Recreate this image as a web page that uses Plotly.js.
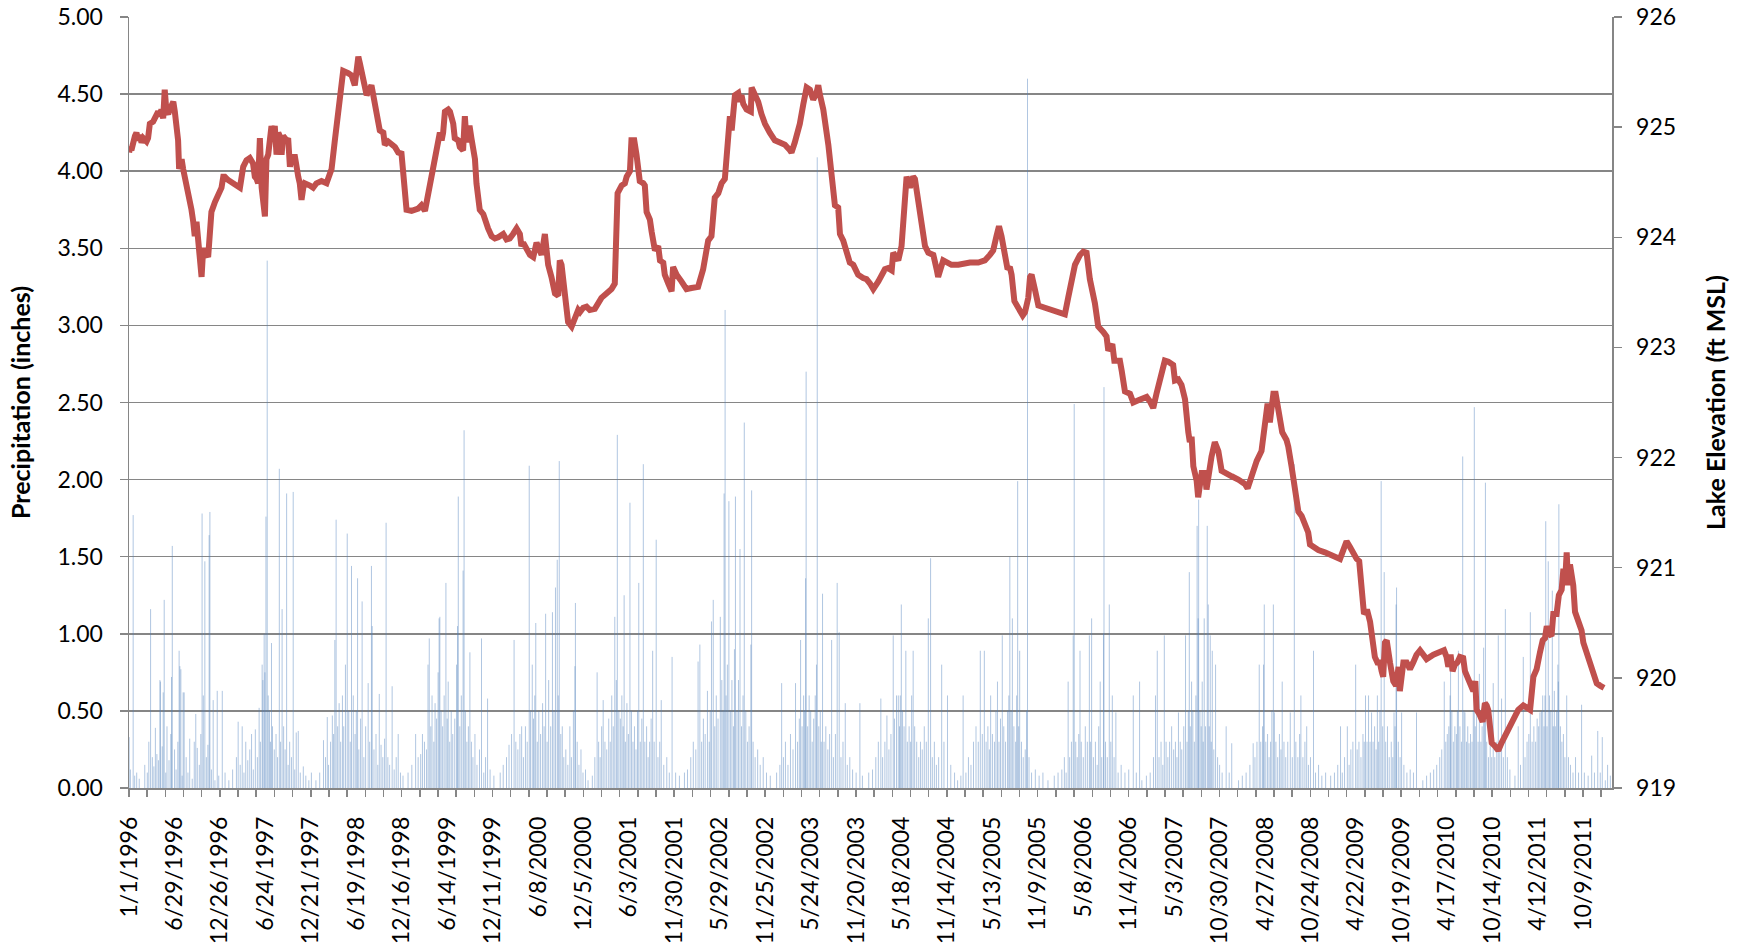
<!DOCTYPE html>
<html><head><meta charset="utf-8">
<script src="https://cdn.plot.ly/plotly-3.0.1.min.js"></script>
<style>html,body{margin:0;padding:0;background:#fff}#chart{width:1744px;height:944px}</style>
</head><body><div id="chart"></div>
<script>
// Day index = days since 1/1/1996 (one category per day, 1/1/1996 .. 1/31/2012)
const firstDay = '1996-01-01';
const lastDayIndex = 5874;

const xTickLabels = ['1/1/1996','6/29/1996','12/26/1996','6/24/1997','12/21/1997','6/19/1998','12/16/1998',
 '6/14/1999','12/11/1999','6/8/2000','12/5/2000','6/3/2001','11/30/2001','5/29/2002','11/25/2002',
 '5/24/2003','11/20/2003','5/18/2004','11/14/2004','5/13/2005','11/9/2005','5/8/2006','11/4/2006',
 '5/3/2007','10/30/2007','4/27/2008','10/24/2008','4/22/2009','10/19/2009','4/17/2010','10/14/2010',
 '4/12/2011','10/9/2011'];

// Daily precipitation readings [dayIndex, inches] (days not listed ~0)
const precip1996 = [[0,0.33],[5,0.12],[16,1.77],[22,0.08],[30,0.1],[40,0.06],[62,0.15],[72,0.1],[78,0.3],[85,1.16],[92,0.2],[98,0.14],[104,0.39],[110,0.22],[116,0.18],[122,0.7],[124,0.69],[131,0.27],[135,0.62],[139,1.22],[145,0.1],[150,0.4],[158,0.18],[165,0.35],[168,0.72],[171,1.57],[180,0.25],[186,0.12],[193,0.3],[198,0.89],[201,0.79],[205,0.77],[210,0.08],[214,0.62],[218,0.62],[226,0.2],[233,0.1],[240,0.32],[250,0.06],[258,0.3],[264,0.48],[270,0.26],[278,0.15],[284,0.35],[289,1.78],[294,0.6],[300,1.47],[306,0.2],[312,0.28],[317,1.64],[320,1.79],[326,0.12],[333,0.57],[340,0.05],[349,0.63],[355,0.08]];
const precip1997 = [[369,0.63],[380,0.1],[395,0.05],[410,0.12],[425,0.2],[432,0.43],[440,0.15],[448,0.4],[455,0.1],[462,0.3],[470,0.18],[478,0.25],[485,0.35],[492,0.12],[500,0.38],[508,0.2],[515,0.52],[520,0.3],[527,0.8],[530,0.7],[535,1.0],[538,0.75],[542,1.76],[547,3.42],[551,0.6],[556,0.5],[560,0.3],[564,0.94],[568,0.4],[575,0.25],[582,0.35],[588,0.2],[595,2.07],[600,0.3],[606,1.16],[612,0.4],[618,0.25],[624,1.91],[630,0.15],[636,0.3],[643,0.2],[650,1.92],[656,0.12],[662,0.36],[670,0.37],[678,0.1],[690,0.14],[700,0.08],[712,0.05],[722,0.1]];
const precip1998 = [[740,0.05],[755,0.1],[770,0.31],[778,0.2],[785,0.46],[790,0.15],[798,0.3],[805,0.47],[810,0.35],[815,0.96],[820,1.74],[826,0.4],[832,0.55],[838,0.3],[845,0.6],[850,0.4],[857,0.8],[864,1.65],[870,0.5],[876,0.3],[881,1.44],[888,0.6],[895,0.35],[900,0.5],[905,1.36],[910,0.25],[917,0.45],[923,1.21],[930,0.2],[937,0.4],[947,0.68],[953,0.3],[960,1.44],[963,1.05],[970,0.25],[978,0.35],[985,0.15],[991,0.61],[998,0.28],[1005,0.2],[1012,0.32],[1018,1.72],[1025,0.2],[1032,0.15],[1042,0.66],[1050,0.12],[1058,0.2],[1066,0.35],[1075,0.1],[1085,0.08]];
const precip1999 = [[1105,0.1],[1120,0.15],[1135,0.35],[1145,0.2],[1155,0.22],[1162,0.35],[1170,0.3],[1178,0.25],[1184,0.8],[1189,0.97],[1195,0.4],[1200,0.6],[1207,0.3],[1212,0.55],[1218,0.45],[1224,0.75],[1228,1.1],[1231,1.11],[1236,0.5],[1242,0.4],[1248,0.6],[1255,1.33],[1260,0.45],[1264,0.69],[1270,0.3],[1276,0.5],[1282,0.35],[1290,0.45],[1297,0.8],[1301,1.05],[1304,1.89],[1310,0.4],[1316,0.6],[1323,1.41],[1327,2.32],[1332,0.5],[1338,0.3],[1344,0.4],[1350,0.88],[1356,0.3],[1362,0.2],[1370,0.35],[1378,0.15],[1388,0.25],[1396,0.97],[1405,0.1],[1412,0.2],[1420,0.58],[1430,0.12],[1445,0.08]];
const precip2000 = [[1470,0.1],[1482,0.15],[1495,0.2],[1505,0.28],[1515,0.35],[1525,0.96],[1532,0.3],[1540,0.25],[1548,0.35],[1555,0.4],[1562,0.2],[1570,0.4],[1577,0.3],[1585,2.09],[1590,0.5],[1597,0.8],[1602,0.45],[1607,0.6],[1611,1.07],[1617,0.3],[1623,0.5],[1630,0.35],[1638,0.55],[1644,0.4],[1650,1.13],[1656,0.3],[1662,0.7],[1670,0.4],[1677,1.14],[1683,0.5],[1689,1.3],[1696,1.48],[1700,0.6],[1704,2.12],[1710,0.35],[1716,0.4],[1722,0.2],[1730,0.25],[1738,0.15],[1746,0.4],[1752,0.2],[1760,0.5],[1766,0.79],[1768,1.2],[1775,0.3],[1782,0.15],[1790,0.25],[1798,0.1],[1808,0.12],[1818,0.05]];
const precip2001 = [[1835,0.08],[1845,0.2],[1854,0.75],[1860,0.3],[1866,0.2],[1872,0.4],[1878,0.57],[1885,0.3],[1892,0.25],[1900,0.45],[1906,0.3],[1912,0.6],[1918,0.4],[1924,1.11],[1930,0.7],[1934,2.29],[1940,0.5],[1946,0.45],[1952,0.6],[1957,0.4],[1961,1.25],[1966,0.3],[1972,0.55],[1978,0.35],[1984,1.85],[1990,0.5],[1996,0.3],[2002,0.4],[2008,0.25],[2014,0.5],[2019,1.33],[2025,0.3],[2031,0.45],[2037,2.1],[2043,0.3],[2050,0.4],[2056,0.2],[2062,0.3],[2068,0.45],[2074,0.89],[2080,0.3],[2088,1.61],[2095,0.2],[2102,0.3],[2108,0.57],[2118,0.15],[2130,0.2],[2140,0.1],[2151,0.85],[2165,0.1],[2180,0.08]];
const precip2002 = [[2200,0.1],[2212,0.12],[2225,0.2],[2235,0.3],[2245,0.25],[2254,0.82],[2261,0.93],[2268,0.3],[2275,0.45],[2282,0.35],[2291,0.63],[2298,0.3],[2302,0.5],[2307,1.08],[2314,1.22],[2320,0.4],[2326,0.6],[2333,0.45],[2342,1.11],[2348,0.7],[2353,0.5],[2357,1.91],[2361,3.1],[2365,0.6],[2370,0.8],[2376,1.86],[2382,0.5],[2388,0.7],[2394,0.4],[2398,0.9],[2402,1.89],[2408,0.5],[2414,0.7],[2420,1.55],[2426,0.4],[2432,0.6],[2437,2.37],[2443,0.5],[2450,0.3],[2456,0.4],[2463,0.93],[2466,1.93],[2472,0.3],[2480,0.2],[2490,0.25],[2500,0.15],[2512,0.2],[2525,0.1],[2540,0.08]];
const precip2003 = [[2565,0.1],[2578,0.15],[2585,0.68],[2592,0.2],[2600,0.3],[2610,0.15],[2620,0.35],[2630,0.25],[2640,0.68],[2648,0.3],[2655,0.45],[2660,0.96],[2666,0.4],[2672,0.6],[2676,0.5],[2680,1.36],[2682,2.7],[2688,0.4],[2694,0.6],[2700,0.5],[2706,0.3],[2712,0.45],[2718,0.6],[2723,0.8],[2726,4.09],[2732,0.4],[2738,0.5],[2742,0.3],[2747,1.26],[2753,0.3],[2760,0.4],[2768,0.25],[2775,0.35],[2783,0.96],[2790,0.2],[2798,0.35],[2805,1.33],[2813,1.01],[2820,0.2],[2828,0.3],[2837,0.55],[2845,0.15],[2855,0.2],[2866,0.12],[2880,0.1],[2895,0.55],[2905,0.08]];
const precip2004 = [[2930,0.1],[2945,0.12],[2958,0.2],[2968,0.3],[2978,0.58],[2985,0.2],[2994,0.3],[3002,0.47],[3010,0.25],[3018,0.35],[3027,0.99],[3032,0.45],[3040,0.6],[3047,0.6],[3052,0.4],[3055,0.6],[3059,1.19],[3064,0.5],[3070,0.4],[3077,0.89],[3083,0.3],[3090,0.4],[3096,0.3],[3100,0.6],[3106,0.89],[3112,0.4],[3120,0.3],[3128,0.2],[3135,0.3],[3142,0.25],[3150,0.4],[3158,0.3],[3166,1.1],[3175,1.49],[3182,0.2],[3190,0.3],[3198,0.15],[3207,0.2],[3219,0.8],[3228,0.3],[3242,0.6],[3255,0.15],[3270,0.1],[3282,0.05]];
const precip2005 = [[3295,0.08],[3304,0.6],[3315,0.1],[3325,0.2],[3335,0.15],[3345,0.3],[3355,0.4],[3364,0.3],[3372,0.89],[3380,0.35],[3388,0.89],[3395,0.3],[3402,0.4],[3408,0.25],[3413,0.6],[3420,0.35],[3428,0.3],[3434,0.5],[3440,0.69],[3446,0.3],[3452,0.45],[3459,0.99],[3465,0.4],[3472,0.3],[3480,0.5],[3485,0.6],[3489,1.5],[3494,0.5],[3499,1.1],[3505,0.4],[3512,0.3],[3516,0.6],[3520,1.99],[3524,0.4],[3528,0.89],[3535,0.3],[3542,0.2],[3550,0.25],[3555,0.5],[3559,4.6],[3565,0.2],[3575,0.1],[3590,0.12],[3605,0.08],[3620,0.1],[3640,0.05]];
const precip2006 = [[3665,0.08],[3680,0.1],[3695,0.12],[3705,0.2],[3712,0.1],[3720,0.69],[3726,0.2],[3733,0.3],[3740,0.99],[3744,2.49],[3750,0.3],[3756,0.2],[3762,0.35],[3767,0.89],[3772,0.3],[3780,0.2],[3788,0.4],[3796,0.3],[3804,0.99],[3808,0.3],[3813,1.1],[3820,0.2],[3828,0.3],[3835,0.15],[3841,0.4],[3847,0.69],[3853,0.2],[3860,1.0],[3862,2.6],[3868,0.3],[3875,0.2],[3883,1.19],[3889,0.3],[3895,0.6],[3902,0.2],[3909,0.49],[3918,0.1],[3930,0.15],[3945,0.1],[3960,0.12],[3978,0.6],[3990,0.1],[4003,0.69],[4012,0.05]];
const precip2007 = [[4030,0.08],[4045,0.1],[4058,0.2],[4066,0.6],[4073,0.89],[4080,0.2],[4088,0.3],[4095,0.15],[4101,0.99],[4108,0.3],[4115,0.2],[4122,0.3],[4130,0.4],[4138,0.25],[4145,0.3],[4151,0.2],[4157,0.49],[4164,0.3],[4170,0.25],[4178,0.4],[4185,0.99],[4191,0.3],[4196,0.5],[4200,1.4],[4204,0.4],[4209,0.69],[4214,0.5],[4220,0.3],[4226,0.6],[4231,1.7],[4235,1.1],[4237,1.87],[4242,0.5],[4247,0.4],[4251,0.69],[4255,0.3],[4259,1.1],[4264,0.4],[4271,1.7],[4275,1.19],[4279,0.4],[4283,0.99],[4287,0.3],[4291,0.89],[4297,0.25],[4304,0.8],[4312,0.2],[4320,0.15],[4330,0.1],[4346,0.4],[4358,0.1],[4368,0.29]];
const precip2008 = [[4395,0.05],[4410,0.08],[4425,0.1],[4440,0.15],[4453,0.29],[4460,0.2],[4468,0.3],[4477,0.8],[4483,0.3],[4490,0.4],[4494,0.8],[4497,1.19],[4503,0.3],[4510,0.35],[4516,0.2],[4522,0.3],[4527,0.5],[4533,1.19],[4537,0.49],[4543,0.3],[4550,0.2],[4557,0.35],[4563,0.25],[4568,0.69],[4575,0.3],[4582,0.2],[4590,0.3],[4600,0.49],[4608,0.2],[4616,2.1],[4622,0.3],[4630,0.2],[4637,0.35],[4642,0.6],[4650,0.2],[4658,0.3],[4665,0.4],[4672,0.15],[4680,0.2],[4692,0.89],[4700,0.1],[4712,0.15],[4725,0.08],[4740,0.1]];
const precip2009 = [[4760,0.08],[4775,0.1],[4788,0.15],[4799,0.4],[4806,0.1],[4815,0.2],[4826,0.4],[4833,0.15],[4840,0.25],[4848,0.3],[4859,0.8],[4865,0.25],[4872,0.3],[4880,0.2],[4888,0.35],[4893,0.3],[4898,0.6],[4904,0.3],[4910,0.6],[4916,0.3],[4922,0.49],[4928,0.3],[4934,0.4],[4940,0.25],[4945,0.6],[4950,0.3],[4955,0.5],[4960,1.99],[4966,0.4],[4972,1.4],[4978,0.3],[4985,0.4],[4992,0.2],[5000,0.3],[5006,0.2],[5011,0.49],[5015,0.4],[5019,1.19],[5021,1.3],[5028,0.3],[5035,0.2],[5041,0.49],[5050,0.15],[5062,0.1],[5075,0.12],[5088,0.1],[5100,0.49]];
const precip2010 = [[5125,0.05],[5140,0.08],[5155,0.1],[5168,0.12],[5180,0.15],[5192,0.2],[5200,0.25],[5210,0.69],[5216,0.3],[5222,0.35],[5228,0.4],[5233,0.6],[5235,0.8],[5240,0.5],[5246,0.3],[5252,0.4],[5258,0.35],[5262,0.5],[5266,0.89],[5272,0.4],[5278,0.3],[5283,2.15],[5288,0.5],[5292,0.49],[5298,0.3],[5303,0.4],[5308,0.29],[5314,0.35],[5320,0.3],[5325,0.5],[5329,2.47],[5333,0.4],[5338,0.5],[5344,0.3],[5349,0.74],[5355,0.3],[5360,0.4],[5366,0.91],[5370,0.5],[5373,1.98],[5378,0.3],[5385,0.2],[5392,0.35],[5398,0.2],[5404,0.68],[5410,0.2],[5418,0.3],[5424,0.99],[5430,0.25],[5437,0.58],[5444,0.2],[5452,1.16],[5460,0.2],[5470,0.12]];
const precip2011 = [[5490,0.08],[5503,0.4],[5512,0.15],[5523,0.85],[5530,0.2],[5538,0.3],[5545,0.35],[5551,1.14],[5558,0.3],[5565,0.4],[5572,0.3],[5578,0.45],[5584,0.4],[5589,0.49],[5595,0.5],[5600,0.6],[5605,0.4],[5609,0.6],[5612,1.73],[5617,0.4],[5622,1.47],[5627,0.6],[5632,0.5],[5638,1.28],[5642,0.4],[5646,0.63],[5650,0.4],[5655,0.5],[5660,0.8],[5662,0.69],[5664,1.84],[5670,0.4],[5676,0.3],[5682,0.35],[5688,0.2],[5695,0.6],[5702,0.2],[5710,0.15],[5720,0.1],[5730,0.2],[5742,0.1],[5754,0.54],[5765,0.1],[5780,0.08],[5794,0.21],[5805,0.1],[5818,0.37],[5828,0.1],[5836,0.33],[5848,0.05],[5857,0.15],[5868,0.08]];

// Lake elevation readings [dayIndex, ft MSL]
const lake1996to1998 = [[0,924.77],[3,924.82],[9,924.79],[16,924.90],[23,924.92],[29,924.95],[36,924.88],[42,924.93],[49,924.86],[56,924.90],[62,924.88],[69,924.87],[75,924.90],[82,925.03],[95,925.05],[102,925.08],[108,925.12],[115,925.14],[122,925.10],[128,925.16],[135,925.08],[141,925.34],[148,925.14],[155,925.12],[161,925.16],[175,925.23],[181,925.14],[188,924.99],[194,924.88],[198,924.62],[208,924.71],[214,924.62],[221,924.55],[234,924.40],[241,924.29],[247,924.25],[254,924.14],[260,924.01],[267,924.14],[274,923.92],[280,923.75],[287,923.64],[293,923.88],[300,923.88],[313,923.82],[320,924.14],[326,924.23],[340,924.32],[353,924.40],[366,924.45],[373,924.55],[379,924.55],[392,924.52],[412,924.49],[439,924.45],[452,924.64],[465,924.70],[478,924.72],[491,924.67],[498,924.55],[505,924.53],[511,924.49],[518,924.90],[525,924.45],[531,924.23],[538,924.19],[544,924.71],[551,924.75],[564,925.01],[571,924.92],[577,925.01],[584,924.75],[591,924.95],[597,924.92],[604,924.75],[610,924.92],[624,924.88],[630,924.90],[637,924.64],[643,924.73],[657,924.73],[663,924.58],[670,924.55],[676,924.49],[683,924.34],[690,924.45],[696,924.49],[716,924.47],[729,924.45],[742,924.49],[762,924.51],[782,924.49],[802,924.62],[815,924.88],[828,925.18],[841,925.47],[848,925.51],[868,925.49],[881,925.47],[894,925.38],[908,925.64],[914,925.58],[927,925.42],[941,925.29],[960,925.38],[967,925.29],[980,925.14],[993,924.97],[1007,924.95],[1013,924.84],[1026,924.87],[1040,924.84],[1053,924.82],[1066,924.77],[1079,924.76],[1099,924.25],[1119,924.24],[1145,924.26],[1158,924.29],[1172,924.24]];
const lake1999to2002 = [[1185,924.40],[1198,924.58],[1211,924.73],[1224,924.84],[1231,924.95],[1238,924.88],[1244,924.95],[1251,925.14],[1264,925.16],[1271,925.14],[1284,925.03],[1290,924.90],[1304,924.88],[1310,924.82],[1317,924.79],[1323,924.79],[1330,925.10],[1337,924.86],[1343,924.99],[1350,924.99],[1356,924.90],[1370,924.71],[1376,924.49],[1383,924.32],[1389,924.25],[1403,924.21],[1409,924.16],[1422,924.08],[1436,924.01],[1449,923.99],[1462,924.00],[1482,924.03],[1495,923.98],[1508,923.99],[1521,924.03],[1535,924.08],[1548,924.03],[1554,923.92],[1561,923.95],[1568,923.92],[1574,923.88],[1588,923.84],[1601,923.82],[1614,923.95],[1627,923.88],[1634,923.84],[1647,924.03],[1654,923.86],[1660,923.75],[1673,923.64],[1687,923.49],[1700,923.47],[1706,923.79],[1713,923.75],[1726,923.53],[1739,923.23],[1753,923.19],[1766,923.27],[1779,923.34],[1786,923.32],[1799,923.36],[1812,923.37],[1825,923.34],[1845,923.35],[1858,923.40],[1871,923.45],[1891,923.49],[1911,923.53],[1924,923.58],[1935,924.40],[1951,924.47],[1964,924.49],[1971,924.55],[1984,924.60],[1990,924.88],[2001,924.88],[2010,924.75],[2023,924.51],[2037,924.49],[2043,924.47],[2050,924.23],[2063,924.16],[2070,924.05],[2083,923.88],[2096,923.92],[2103,923.79],[2116,923.77],[2122,923.66],[2136,923.58],[2149,923.51],[2155,923.73],[2169,923.66],[2188,923.60],[2208,923.53],[2228,923.54],[2248,923.54],[2254,923.55],[2274,923.71],[2288,923.86],[2294,923.97],[2307,924.01],[2320,924.36],[2334,924.40],[2347,924.49]];
const lake2002to2005 = [[2360,924.53],[2367,924.75],[2373,925.05],[2380,925.10],[2387,924.97],[2393,925.14],[2400,925.29],[2413,925.31],[2420,925.23],[2426,925.29],[2433,925.21],[2446,925.16],[2463,925.14],[2466,925.36],[2479,925.29],[2492,925.23],[2505,925.12],[2519,925.03],[2538,924.95],[2558,924.88],[2578,924.86],[2598,924.84],[2618,924.79],[2624,924.77],[2637,924.86],[2657,925.03],[2671,925.21],[2684,925.36],[2697,925.34],[2710,925.25],[2723,925.31],[2730,925.38],[2737,925.29],[2750,925.16],[2770,924.84],[2783,924.53],[2796,924.29],[2809,924.27],[2816,924.03],[2829,923.97],[2842,923.84],[2855,923.77],[2869,923.75],[2888,923.66],[2908,923.63],[2921,923.62],[2935,923.58],[2948,923.53],[2968,923.60],[2981,923.66],[2994,923.71],[3007,923.72],[3021,923.70],[3027,923.86],[3040,923.82],[3047,923.79],[3060,923.92],[3073,924.40],[3080,924.55],[3093,924.45],[3106,924.55],[3113,924.53],[3126,924.32],[3139,924.12],[3153,923.92],[3166,923.86],[3186,923.84],[3199,923.71],[3205,923.64],[3225,923.79],[3238,923.77],[3258,923.75],[3285,923.75],[3304,923.76],[3331,923.77],[3364,923.77],[3390,923.79],[3410,923.84],[3423,923.88],[3436,924.01],[3446,924.10],[3456,924.01],[3470,923.86],[3480,923.71],[3489,923.73],[3496,923.66],[3507,923.42],[3522,923.36],[3540,923.29],[3549,923.32]];
const lake2005to2008 = [[3555,923.38],[3562,923.45],[3569,923.64],[3575,923.66],[3588,923.53],[3602,923.38],[3628,923.36],[3654,923.34],[3681,923.32],[3707,923.30],[3720,923.45],[3734,923.62],[3747,923.75],[3767,923.84],[3780,923.87],[3793,923.86],[3806,923.62],[3826,923.40],[3839,923.19],[3859,923.14],[3872,923.10],[3879,922.97],[3895,923.03],[3903,922.88],[3925,922.88],[3932,922.79],[3945,922.60],[3965,922.58],[3978,922.50],[3998,922.52],[4031,922.55],[4044,922.51],[4057,922.45],[4070,922.58],[4084,922.73],[4103,922.88],[4117,922.87],[4136,922.84],[4143,922.70],[4156,922.71],[4169,922.66],[4183,922.53],[4196,922.23],[4202,922.14],[4209,922.19],[4216,921.92],[4229,921.79],[4235,921.64],[4249,921.86],[4262,921.86],[4268,921.71],[4275,921.84],[4288,922.01],[4301,922.14],[4315,922.06],[4328,921.88],[4341,921.86],[4368,921.83],[4394,921.80],[4420,921.76],[4431,921.72],[4447,921.84],[4467,921.97],[4486,922.06],[4500,922.27],[4510,922.49],[4519,922.32],[4526,922.45],[4533,922.58],[4542,922.58],[4552,922.45],[4559,922.32],[4568,922.23],[4585,922.16],[4592,922.10],[4605,921.92],[4618,921.75],[4625,921.62],[4632,921.51],[4645,921.47],[4658,921.38],[4671,921.32],[4678,921.21],[4691,921.19],[4711,921.16]];
const lake2008to2011 = [[4737,921.14],[4757,921.12],[4777,921.09],[4797,921.08],[4810,921.16],[4823,921.24],[4836,921.19],[4850,921.12],[4863,921.08],[4873,921.06],[4879,920.84],[4887,920.75],[4892,920.58],[4900,920.60],[4906,920.60],[4916,920.51],[4926,920.36],[4935,920.19],[4945,920.14],[4955,920.14],[4962,920.06],[4968,920.01],[4975,920.32],[4982,920.34],[4995,920.14],[5008,919.97],[5019,919.93],[5024,920.10],[5029,920.10],[5034,919.88],[5041,920.06],[5048,920.14],[5061,920.14],[5074,920.08],[5087,920.14],[5100,920.21],[5114,920.25],[5127,920.21],[5140,920.17],[5167,920.21],[5193,920.24],[5209,920.25],[5219,920.19],[5226,920.10],[5235,920.21],[5243,920.06],[5252,920.12],[5262,920.14],[5272,920.19],[5285,920.18],[5292,920.06],[5305,919.99],[5318,919.95],[5325,919.88],[5333,919.97],[5338,919.71],[5349,919.67],[5362,919.60],[5371,919.77],[5378,919.75],[5384,919.71],[5391,919.54],[5398,919.41],[5411,919.38],[5424,919.34],[5437,919.41],[5450,919.47],[5470,919.56],[5490,919.64],[5503,919.71],[5523,919.75],[5543,919.73],[5550,919.71],[5563,920.01],[5576,920.08],[5589,920.23],[5600,920.34],[5609,920.36],[5616,920.47],[5626,920.40],[5635,920.38],[5642,920.58],[5655,920.58],[5664,920.75],[5675,920.80],[5682,920.99],[5688,920.84],[5695,921.14],[5701,920.84],[5708,921.03],[5721,920.84],[5728,920.60],[5741,920.53],[5748,920.47],[5754,920.43],[5761,920.32],[5774,920.23],[5787,920.12],[5800,920.03],[5814,919.95],[5827,919.93],[5843,919.91]];

const precipAll = [].concat(precip1996,precip1997,precip1998,precip1999,precip2000,precip2001,precip2002,precip2003,precip2004,precip2005,precip2006,precip2007,precip2008,precip2009,precip2010,precip2011);
const lakeAll = [].concat(lake1996to1998,lake1999to2002,lake2002to2005,lake2005to2008,lake2008to2011);

const DAY = 86400000;
const t0 = Date.UTC(1996,0,1);
function dayToDate(d){ return new Date(t0 + d*DAY).toISOString().slice(0,19).replace('T',' '); }
function labelToDate(s){ const p = s.split('/').map(Number); return p[2]+'-'+String(p[0]).padStart(2,'0')+'-'+String(p[1]).padStart(2,'0'); }

const px = [], py = [];
precipAll.forEach(([d,v]) => { const x = dayToDate(d + 0.5); px.push(x, x, null); py.push(0, v, null); });

const xRange = [dayToDate(0), dayToDate(lastDayIndex + 1)];
const grey = '#868686';
const tickFont = {family:'Lato, "Open Sans", sans-serif', size:23, color:'#000'};
const titleFont = {family:'Lato, "Open Sans", sans-serif', size:25, color:'#000', weight:700};

const traces = [
  {type:'scatter', mode:'lines', x:px, y:py, xaxis:'x', yaxis:'y', connectgaps:false,
   line:{color:'rgba(79,129,189,0.45)', width:1}, hoverinfo:'skip', name:'Precipitation'},
  {type:'scatter', mode:'lines', x:lakeAll.map(r=>dayToDate(r[0]+0.5)), y:lakeAll.map(r=>r[1]),
   xaxis:'x2', yaxis:'y2', line:{color:'#C0504D', width:6}, name:'Lake Elevation'}
];

const layout = {
  width:1744, height:944,
  margin:{l:129, r:132, t:17, b:156},
  paper_bgcolor:'#fff', plot_bgcolor:'#fff',
  showlegend:false,
  xaxis:{type:'date', range:xRange, tickmode:'array',
    tickvals:xTickLabels.map(s=>dayToDate((Date.parse(labelToDate(s))-t0)/DAY + 0.5)), ticktext:xTickLabels,
    tickangle:-90, ticks:'', showgrid:false, zeroline:false, showline:true, linecolor:grey, linewidth:1.5,
    tickfont:tickFont, ticklabelstandoff:18},
  xaxis2:{type:'date', range:xRange, overlaying:'x', anchor:'y2', side:'bottom',
    tickmode:'linear', tick0:dayToDate(0), dtick:72*DAY, ticks:'outside', ticklen:8, tickwidth:1.5, tickcolor:grey,
    showticklabels:false, showgrid:false, zeroline:false, showline:false},
  yaxis:{range:[0,5], tickmode:'linear', tick0:0, dtick:0.5, tickformat:'.2f',
    showgrid:true, gridcolor:grey, gridwidth:1.5, zeroline:false,
    ticks:'outside', ticklen:8, tickwidth:1.5, tickcolor:grey, showline:true, linecolor:grey, linewidth:1.5,
    tickfont:tickFont, ticklabelstandoff:12, title:{text:'Precipitation (inches)', font:titleFont, standoff:19}},
  yaxis2:{range:[919,926], tickmode:'linear', tick0:919, dtick:1, overlaying:'y', side:'right', anchor:'x2',
    showgrid:false, zeroline:false,
    ticks:'outside', ticklen:8, tickwidth:1.5, tickcolor:grey, showline:true, linecolor:grey, linewidth:1.5,
    tickfont:tickFont, ticklabelstandoff:10, title:{text:'Lake Elevation (ft MSL)', font:titleFont, standoff:32}}
};

Plotly.newPlot('chart', traces, layout, {staticPlot:true, displayModeBar:false});
</script>
</body></html>
